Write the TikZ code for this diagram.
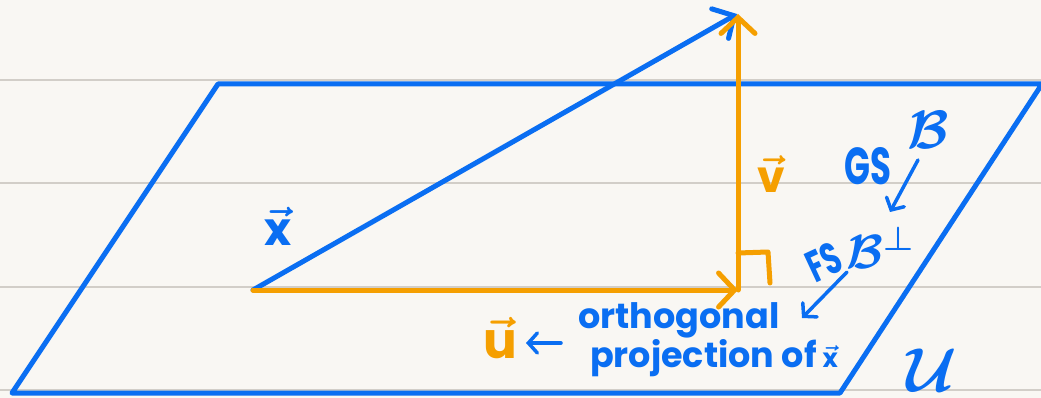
\documentclass[tikz,border=0pt]{standalone}
\usepackage{fix-cm}
\usepackage{amsmath}
\usepackage{fontspec}
\setmainfont{Poppins}
\usetikzlibrary{arrows.meta}
\definecolor{pen}{HTML}{0A6EF2}
\definecolor{hl}{HTML}{F59F00}
\definecolor{paper}{HTML}{F9F7F3}
\definecolor{ruling}{HTML}{D2CEC8}
\newcommand\fsz[1]{\fontsize{#1}{#1}\selectfont}
\begin{document}
\begin{tikzpicture}[x=1pt,y=-1pt,line cap=round,line join=round,
  bluepen/.style={draw=pen,line width=5pt},
  orangepen/.style={draw=hl,line width=5pt},
  notepen/.style={draw=pen,line width=3.5pt},
  bigtip/.style={-{Straight Barb[length=16pt,width=34pt,line cap=round]}},
  smalltip/.style={-{Straight Barb[length=9pt,width=20pt,line cap=round]}},
  bluetext/.style={text=pen,inner sep=0pt,font=\bfseries},
  orangetext/.style={text=hl,inner sep=0pt,font=\bfseries}]
\useasboundingbox (0,0) rectangle (1041,398);
\fill[paper] (0,0) rectangle (1041,398);
\foreach \y in {80,183,287,390} \draw[ruling,line width=1.2pt] (0,\y) -- (1041,\y);
% plane U
\coordinate (A) at (218,84);
\coordinate (B) at (1042,84);
\coordinate (C) at (840,393);
\coordinate (D) at (12,393);
\draw[bluepen] (A) -- (B) -- (C) -- (D) -- cycle;
% vectors
\coordinate (O) at (253,290);
\coordinate (P) at (738,290);
\coordinate (X) at (737,14);
\coordinate (Xv) at (738,14);
\draw[bluepen,bigtip] (O) -- (X);
\draw[orangepen,bigtip] (O) -- (P);
\draw[orangepen,bigtip] (P) -- (Xv);
% right angle
\coordinate (R1) at (738,253);
\coordinate (R2) at (768,252);
\coordinate (R3) at (770,283);
\draw[orangepen] (R1) -- (R2) -- (R3);
% labels
\node[bluetext] (xlab) at (278,226) {\fsz{46}$\boldsymbol{\vec{\mbox{x}}}$};
\node[orangetext] (vlab) at (771,174) {\fsz{44}$\boldsymbol{\vec{\mbox{v}}}$};
\node[orangetext] (ulab) at (500,338) {\fsz{50}$\boldsymbol{\vec{\mbox{u}}}$};
\node[bluetext] (orth) at (679,320) {\fsz{35}orthogonal};
\node[bluetext] (proj) at (714,358) {\fsz{35}projection of\,\fsz{26}$\boldsymbol{\vec{\mbox{x}}}$};
\node[bluetext] (gs) at (868,166) {\scalebox{0.85}[1.3]{\fsz{40}GS}};
\node[bluetext] (bb) at (928,130) {\fsz{54}$\boldsymbol{\mathcal{B}}$};
\node[bluetext,rotate=25] (fs) at (824,262) {\scalebox{0.85}[1.3]{\fsz{34}FS}};
\node[bluetext] (bperp) at (880,248) {\fsz{48}$\boldsymbol{\mathcal{B}^{\perp}}$};
\node[bluetext] (ulab2) at (932,370) {\fsz{62}$\boldsymbol{\mathcal{U}}$};
% annotation arrows
\coordinate (g1) at (918,160);
\coordinate (g2) at (890,212);
\coordinate (f1) at (847,272);
\coordinate (f2) at (802,318);
\coordinate (u1) at (561,343);
\coordinate (u2) at (526,343);
\draw[notepen,smalltip] (g1) -- (g2);
\draw[notepen,smalltip] (f1) -- (f2);
\draw[notepen,smalltip] (u1) -- (u2);
\end{tikzpicture}
\end{document}
